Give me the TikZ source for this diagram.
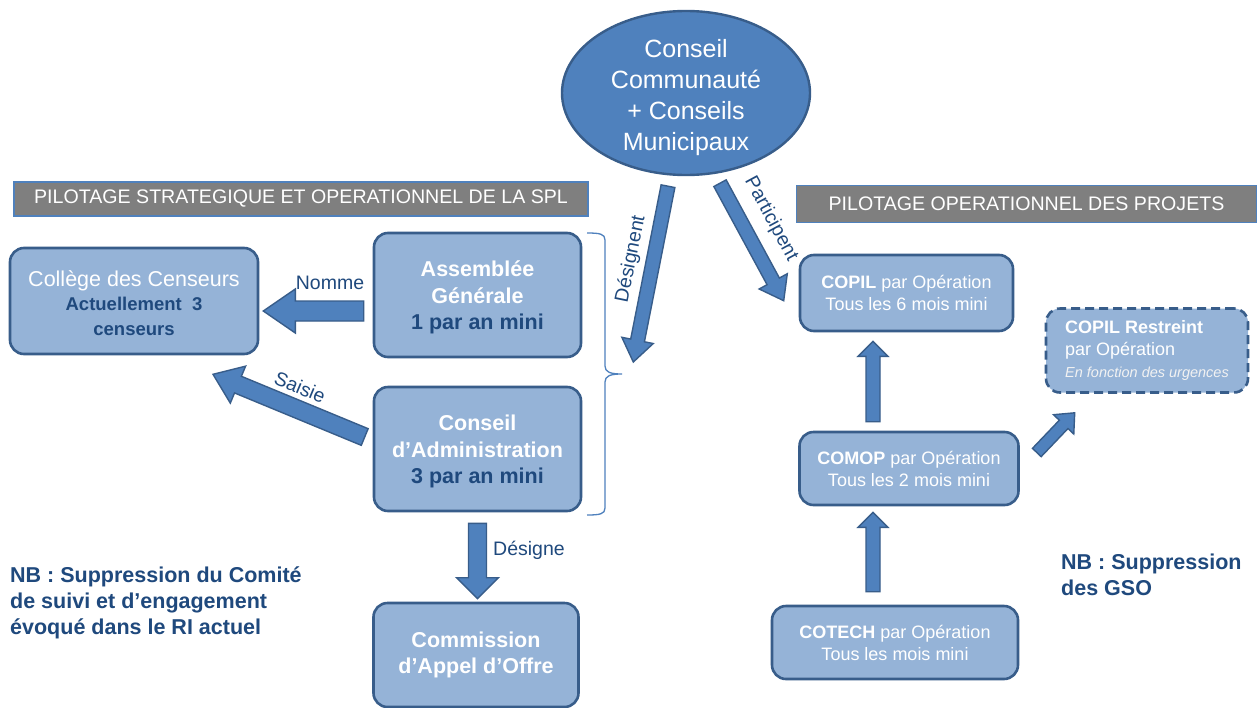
\documentclass[tikz,border=0pt]{standalone}
\usepackage{fontspec}
\setmainfont{Liberation Sans}
\usetikzlibrary{calc,shapes.geometric}
\definecolor{boxfill}{HTML}{95B3D7}
\definecolor{boxdraw}{HTML}{385D8A}
\definecolor{arrowfill}{HTML}{4F81BD}
\definecolor{navy}{HTML}{1F497D}
\definecolor{bannerfill}{HTML}{7F7F7F}
\definecolor{bannerdraw}{HTML}{4F81BD}
\tikzset{
  box/.style={draw=boxdraw, line width=2.6pt, fill=boxfill, rounded corners=14pt, inner sep=0pt, align=center, text=white},
  bigtxt/.style={font=\bfseries\fontsize{21.5}{26.5}\selectfont},
  smalltxt/.style={font=\fontsize{18}{22}\selectfont},
  banner/.style={draw=bannerdraw, line width=1.2pt, fill=bannerfill, text=white, inner sep=0pt, font=\fontsize{19.6}{22}\selectfont},
  barrow/.style={draw=boxdraw, line width=1.4pt, fill=arrowfill, line join=miter},
  lbl/.style={text=navy, font=\fontsize{19.5}{23}\selectfont, inner sep=0pt},
  nbtxt/.style={text=navy, font=\bfseries\fontsize{21.5}{26}\selectfont, inner sep=0pt, align=left},
  bracestyle/.style={draw=arrowfill, line width=1.3pt},
}
% block arrow: from, to, shaft half width, head half width, head length
\newcommand\blockarr[5]{%
  \coordinate (bancktmp) at ($(#2)!#5!(#1)$);
  \draw[barrow] ($(#1)!#3!90:(#2)$) -- ($(bancktmp)!#3!90:(#2)$) -- ($(bancktmp)!#4!90:(#2)$) -- (#2)
    -- ($(bancktmp)!#4!-90:(#2)$) -- ($(bancktmp)!#3!-90:(#2)$) -- ($(#1)!#3!-90:(#2)$) -- cycle;
}
\begin{document}
\begin{tikzpicture}[x=1pt,y=-1pt]
\useasboundingbox[fill=white] (0,0) rectangle (1258,707);

% ellipse
\node[ellipse, draw=boxdraw, line width=2.4pt, fill=arrowfill, minimum width=248pt, minimum height=164pt,
  inner sep=0pt] (council) at (686,93) {};
\node[align=center, text=white, inner sep=0pt, font=\fontsize{25}{31}\selectfont] (counciltxt) at (686,98)
  {Conseil\\Communauté\\+ Conseils\\Municipaux};

% banners
\node[banner, minimum width=574pt, minimum height=34pt] (ban1) at (301,199)
  {PILOTAGE STRATEGIQUE ET OPERATIONNEL DE LA SPL};
\node[banner, minimum width=460pt, minimum height=37pt] (ban2) at (1026.5,204)
  {PILOTAGE OPERATIONNEL DES PROJETS};

% left boxes
\node[box, minimum width=248pt, minimum height=106pt, font=\fontsize{21.5}{24.5}\selectfont] (col) at (134,301)
  {\rule{0pt}{20pt}Collège des Censeurs\\\textcolor{navy}{\bfseries\fontsize{18.5}{23}\selectfont Actuellement~~3}\\\textcolor{navy}{\bfseries\fontsize{18.5}{23}\selectfont censeurs}};
\node[box, bigtxt, minimum width=207pt, minimum height=124pt] (ag) at (477.5,295)
  {\rule{0pt}{21pt}Assemblée\\Générale\\\textcolor{navy}{1 par an mini}};
\node[box, bigtxt, minimum width=207pt, minimum height=124pt] (ca) at (477.5,449)
  {\rule{0pt}{21pt}Conseil\\d’Administration\\\textcolor{navy}{3 par an mini}};
\node[box, bigtxt, minimum width=205pt, minimum height=104pt] (cao) at (476,655)
  {Commission\\d’Appel d’Offre};

% right boxes
\node[box, smalltxt, minimum width=213pt, minimum height=76pt] (copil) at (906.5,293)
  {\textbf{COPIL} par Opération\\Tous les 6 mois mini};
\node[box, smalltxt, dashed, dash pattern=on 9pt off 5pt, minimum width=202pt, minimum height=84pt, align=left] (restr) at (1147,350.5)
  {\textbf{COPIL Restreint}\\par Opération\\{\itshape\color[HTML]{F2F2F2}\fontsize{14.5}{19}\selectfont En fonction des urgences}};
\node[box, smalltxt, minimum width=219pt, minimum height=73pt] (comop) at (909,468.5)
  {\textbf{COMOP} par Opération\\Tous les 2 mois mini};
\node[box, smalltxt, minimum width=246pt, minimum height=73pt] (cotech) at (895,642.5)
  {\textbf{COTECH} par Opération\\Tous les mois mini};

% notes
\node[nbtxt, anchor=west] (nb1) at (10,603)
  {NB : Suppression du Comité\\de suivi et d’engagement\\évoqué dans le RI actuel};
\node[nbtxt, anchor=west] (nb2) at (1061,575)
  {NB : Suppression\\des GSO};

% brace
\draw[bracestyle] (587,233) .. controls (600,233) and (605,234) .. (605,240) -- (605,366)
  .. controls (605,372) and (610,374) .. (622,374) .. controls (610,374) and (605,376) .. (605,382)
  -- (605,508) .. controls (605,514) and (600,515) .. (587,515);

% arrow end points
\coordinate (nomT) at ($(ag.west)+(-9,16)$);
\coordinate (nomH) at ($(col.east)+(4,10)$);
\coordinate (saiT) at ($(ca.west)+(-8,-12)$);
\coordinate (saiH) at ($(col.south)+(79,19)$);
\coordinate (dstT) at ($(council.south)+(-18,10)$);
\coordinate (dstH) at ($(ag.east)+(51,67)$);
\coordinate (parT) at ($(council.south)+(34,7)$);
\coordinate (parH) at ($(copil.north west)+(-15,47)$);
\coordinate (desT) at ($(ca.south)+(0,11)$);
\coordinate (desH) at ($(cao.north)+(1.5,-3)$);
\coordinate (upAT) at ($(comop.north)+(-36,-9)$);
\coordinate (upAH) at ($(copil.south)+(-33.5,9)$);
\coordinate (upBT) at ($(cotech.north)+(-22,-13)$);
\coordinate (upBH) at ($(comop.south)+(-36,6)$);
\coordinate (rsT) at ($(comop.east)+(17,-16)$);
\coordinate (rsH) at ($(restr.south west)+(30,19)$);

\blockarr{nomT}{nomH}{10pt}{22pt}{32pt}
\blockarr{saiT}{saiH}{9pt}{20pt}{27pt}
\blockarr{dstT}{dstH}{7pt}{16pt}{22pt}
\blockarr{parT}{parH}{7pt}{16pt}{22pt}
\blockarr{desT}{desH}{9pt}{21pt}{21pt}
\blockarr{upAT}{upAH}{7pt}{15pt}{15pt}
\blockarr{upBT}{upBH}{7pt}{15pt}{15pt}
\blockarr{rsT}{rsH}{6pt}{14pt}{16pt}

% labels
\node[lbl] (lnom) at (330,283) {Nomme};
\node[lbl, rotate=-22.7] (lsai) at (300,387) {Saisie};
\node[lbl, rotate=78.5] (ldst) at (631,259) {Désignent};
\node[lbl, rotate=-61.6] (lpar) at (771,219) {Participent};
\node[lbl] (ldes) at (529,550) {Désigne};
\end{tikzpicture}
\end{document}
